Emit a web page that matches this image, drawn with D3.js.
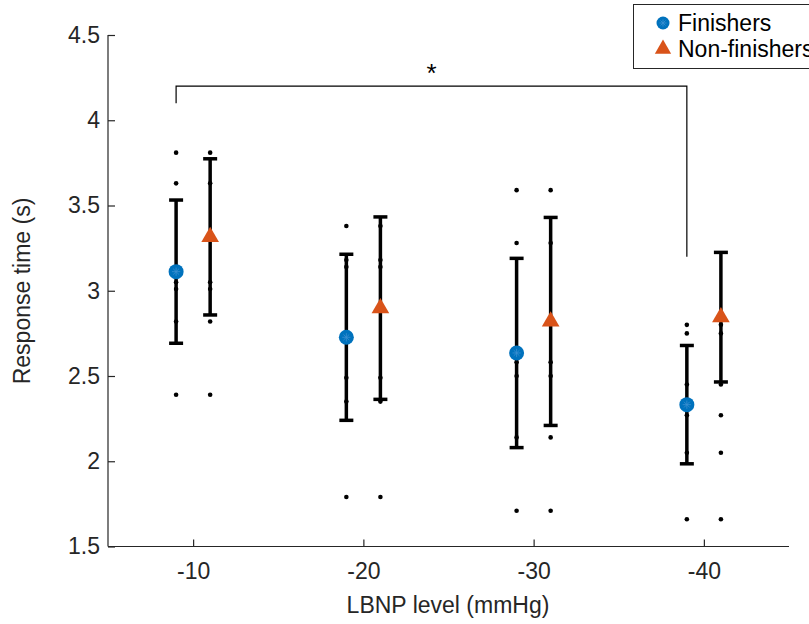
<!DOCTYPE html>
<html><head><meta charset="utf-8">
<script src="https://cdn.jsdelivr.net/npm/d3@7"></script>
<style>body{margin:0;background:#fff}svg{display:block}text{font-family:"Liberation Sans",Arial,Helvetica,sans-serif}</style>
</head><body>
<svg id="chart" width="809" height="624"></svg>
<script>
// ---- data ----
const levels = [-10, -20, -30, -40];
const yTicks = [1.5, 2, 2.5, 3, 3.5, 4, 4.5];
const finMean = [3.112, 2.727, 2.635, 2.332];
const finErr = [0.42, 0.487, 0.555, 0.347];
const nonMean = [3.316, 2.898, 2.82, 2.845];
const nonErr = [0.458, 0.535, 0.61, 0.38];
const subj10 = [3.81, 3.63, 3.05, 3.01, 2.82, 2.39];
const subj20 = [3.38, 3.18, 3.14, 2.49, 2.35, 1.79];
const subj30 = [3.59, 3.28, 2.58, 2.50, 2.14, 1.71];
const subj40 = [2.80, 2.75, 2.45, 2.27, 2.05, 1.66];
const subjects = [subj10, subj20, subj30, subj40];
const seriesNames = ["Finishers", "Non-finishers"];
const sigBracket = {from: -10, to: -40, top: 4.2, leftEnd: 4.1, rightEnd: 3.2, label: "*"};

// ---- layout ----
const svg = d3.select("#chart");
const axisColor = "#262626";
const x = d3.scaleLinear().domain([-5, -45]).range([108, 789]);
const y = d3.scaleLinear().domain([1.5, 4.5]).range([546.5, 35]);
const blue = "#0072BD", orange = "#D95319";
const fs = 23;

// axes
const gx = svg.append("g").attr("transform", "translate(0,546.5)")
  .call(d3.axisBottom(x).tickValues(levels).tickSize(-7).tickPadding(16).tickFormat(d => d));
const gy = svg.append("g").attr("transform", "translate(108,0)")
  .call(d3.axisLeft(y).tickValues(yTicks).tickSize(-7).tickPadding(8).tickFormat(d => d));
[gx, gy].forEach(g => {
  g.select(".domain").attr("stroke", axisColor).attr("stroke-width", 1.2);
  g.selectAll(".tick line").attr("stroke", axisColor).attr("stroke-width", 1.2);
  g.selectAll(".tick text").attr("fill", axisColor).attr("font-size", fs);
});
gx.select(".domain").attr("d", "M108,0H789");
gy.select(".domain").attr("d", "M0,546.5V35");

svg.append("text").attr("x", 448).attr("y", 613).attr("text-anchor", "middle")
  .attr("font-size", fs).attr("fill", axisColor).text("LBNP level (mmHg)");
svg.append("text").attr("transform", "translate(30,291) rotate(-90)").attr("text-anchor", "middle")
  .attr("font-size", fs).attr("fill", axisColor).text("Response time (s)");

// error bars
const dx1 = x(-9) - x(-10), dx2 = x(-11) - x(-10);
function errBars(means, errs, dx) {
  const g = svg.append("g");
  levels.forEach((lv, i) => {
    const cx = x(lv) + dx;
    const lo = y(means[i] - errs[i]), hi = y(means[i] + errs[i]);
    g.append("line").attr("x1", cx).attr("x2", cx).attr("y1", lo).attr("y2", hi)
      .attr("stroke", "#000").attr("stroke-width", 3.5);
    [lo, hi].forEach(yy => g.append("line").attr("x1", cx - 7).attr("x2", cx + 7)
      .attr("y1", yy).attr("y2", yy).attr("stroke", "#000").attr("stroke-width", 3.5));
  });
}
errBars(finMean, finErr, dx1);
errBars(nonMean, nonErr, dx2);

// subject dots
levels.forEach((lv, i) => {
  [dx1, dx2].forEach(dx => {
    svg.append("g").selectAll("circle").data(subjects[i]).join("circle")
      .attr("cx", x(lv) + dx).attr("cy", d => y(d)).attr("r", 2.3).attr("fill", "#000");
  });
});

// mean markers
const tri = d3.symbol().type(d3.symbolTriangle);
function finMarker(g, cx, cy, r) {
  g.append("circle").attr("cx", cx).attr("cy", cy).attr("r", r).attr("fill", blue);
  const s = r * 0.55;
  [[0, s], [s, 0], [s * 0.7, s * 0.7], [s * 0.7, -s * 0.7]].forEach(([a, b]) =>
    g.append("line").attr("x1", cx - a).attr("x2", cx + a).attr("y1", cy - b).attr("y2", cy + b)
      .attr("stroke", "#3a8fd0").attr("stroke-width", 0.8));
}
levels.forEach((lv, i) => {
  finMarker(svg, x(lv) + dx1, y(finMean[i]), 7.5);
  svg.append("path").attr("d", tri.size(135)())
    .attr("transform", `translate(${x(lv) + dx2},${y(nonMean[i])})`).attr("fill", orange);
});

// significance bracket
const bx1 = x(sigBracket.from) + dx1, bx2 = x(sigBracket.to) + dx1;
svg.append("path").attr("fill", "none").attr("stroke", "#000").attr("stroke-width", 1.2)
  .attr("d", `M${bx1},${y(sigBracket.leftEnd)}V${y(sigBracket.top)}H${bx2}V${y(sigBracket.rightEnd)}`);
svg.append("text").attr("x", (bx1 + bx2) / 2).attr("y", 82).attr("text-anchor", "middle")
  .attr("font-size", 26).attr("fill", "#000").text(sigBracket.label);

// legend
const lg = svg.append("g");
lg.append("rect").attr("x", 633.5).attr("y", 4.5).attr("width", 200).attr("height", 64)
  .attr("fill", "#fff").attr("stroke", axisColor).attr("stroke-width", 1);
finMarker(lg, 663, 23, 6.5);
lg.append("path").attr("d", tri.size(115)()).attr("transform", "translate(663,49)").attr("fill", orange);
seriesNames.forEach((n, i) => lg.append("text").attr("x", 678).attr("y", 31 + i * 26)
  .attr("font-size", fs).attr("fill", "#000").text(n));
</script>
</body></html>
